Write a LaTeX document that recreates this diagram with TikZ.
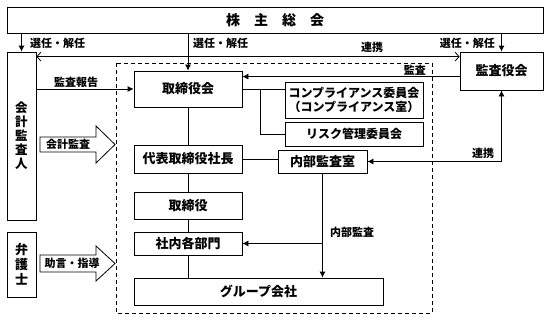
\documentclass[tikz,border=0pt]{standalone}
\usepackage{fontspec}
\setmainfont{Noto Sans CJK JP}
\usetikzlibrary{arrows.meta,calc}
\tikzset{
  box/.style={draw, line width=0.8pt, fill=white, inner sep=0pt, minimum width=108pt, font=\fontsize{13}{15}\selectfont\bfseries},
  lbl/.style={inner sep=0pt, font=\fontsize{11}{13}\selectfont\bfseries},
  arr/.style={line width=0.8pt, -{Latex[length=6pt,width=6pt]}},
  arrb/.style={line width=0.8pt, {Latex[length=6pt,width=6pt]}-{Latex[length=6pt,width=6pt]}},
  oarr/.style={line width=0.8pt, {Straight Barb[length=4pt,width=9pt]}-{Straight Barb[length=4pt,width=9pt]}},
  ln/.style={line width=0.8pt},
  blk/.style={draw, line width=0.8pt, fill=white},
}
\begin{document}
\begin{tikzpicture}[x=1pt,y=-1pt]
\useasboundingbox (0,0) rectangle (549,319);
% dashed frame
\draw[line width=0.8pt, dash pattern=on 4pt off 3pt] (116,63) rectangle (432,313);
% boxes
\node[box, minimum width=536, minimum height=26, font=\fontsize{14}{16}\selectfont\bfseries] (kabu) at (275,20) {株\quad 主\quad 総\quad 会};
\node[box, minimum width=29, minimum height=168, align=center, font=\fontsize{12.5}{14}\selectfont\bfseries] (kaikei) at (21.5,136) {会\\計\\監\\査\\人};
\node[box, minimum width=29, minimum height=65, align=center, font=\fontsize{13}{15}\selectfont\bfseries] (bengo) at (21.5,264.5) {弁\\護\\士};
\node[box, minimum width=83, minimum height=38] (kansa) at (501.5,71) {監査役会};
\node[box, minimum height=36] (torikai) at (188,89) {取締役会};
\node[box, minimum height=28] (shacho) at (188,159) {代表取締役社長};
\node[box, minimum height=27] (tori) at (188,205.5) {取締役};
\node[box, minimum height=23] (bumon) at (188,243.5) {社内各部門};
\node[box, minimum width=249, minimum height=27] (group) at (258.5,291.5) {グループ会社};
\node[box, minimum width=138, minimum height=36, align=center, font=\fontsize{12}{14}\selectfont\bfseries] (comp) at (354,100) {コンプライアンス委員会\\（コンプライアンス室）};
\node[box, minimum width=138, minimum height=24, font=\fontsize{12}{14}\selectfont\bfseries] (risk) at (354,134) {リスク管理委員会};
\node[box, minimum width=89, minimum height=23] (naibu) at (322.5,161.5) {内部監査室};
% connectors from shareholders
\draw[arr] (kaikei.north |- kabu.south) -- (kaikei.north);
\draw[arr] (torikai.north |- kabu.south) -- (torikai.north);
\draw[arr] (kansa.north |- kabu.south) -- (kansa.north);
\node[lbl, anchor=west] (l1) at (30,43) {選任・解任};
\node[lbl, anchor=west] (l2) at (193,43) {選任・解任};
\node[lbl, anchor=east] (l3) at (495,43) {選任・解任};
% renkei long
\coordinate (ka) at ($(kaikei.north east)+(0,5)$);
\draw[oarr] (ka) -- (ka -| kansa.west);
\node[lbl] (l4) at (372,47) {連携};
% kansa
\coordinate (k1) at ($(kansa.north west)+(0,25)$);
\draw[arr] (k1) -- (k1 -| torikai.east);
\node[lbl, anchor=east] (l5) at (426,70) {監査};
% kansa houkoku
\draw[arr] (kaikei.east |- torikai.west) -- (torikai.west);
\node[lbl] (l6) at (76,82) {監査報告};
% board to committees
\draw[ln] (torikai.east) -- (comp.west |- torikai.east);
\draw[ln] ($(torikai.east)+(18,0)$) |- (risk.west);
% chain
\draw[ln] (torikai.south) -- (shacho.north);
\draw[ln] (shacho.south) -- (tori.north);
\draw[ln] (tori.south) -- (bumon.north);
\draw[ln] (bumon.south) -- (bumon.south |- group.north);
\draw[ln] (shacho.east) -- (naibu.west |- shacho.east);
% internal audit
\draw[arr] (naibu.south) -- (naibu.south |- group.north);
\draw[arr] (naibu.south |- bumon.east) -- (bumon.east);
\node[lbl] (l7) at (352,232) {内部監査};
\draw[arrb] (naibu.east) -| (kansa.south);
\node[lbl] (l8) at (483,153) {連携};
% block arrows
\draw[blk] (40,137) -- (96,137) -- (96,126) -- (115,144.5) -- (96,163) -- (96,152) -- (40,152) -- cycle;
\node[lbl] (l9) at (68,144.5) {会計監査};
\draw[blk] (40,255) -- (96,255) -- (96,246) -- (115,263.5) -- (96,281) -- (96,272) -- (40,272) -- cycle;
\node[lbl] (l10) at (72,263.5) {助言・指導};
\end{tikzpicture}
\end{document}
